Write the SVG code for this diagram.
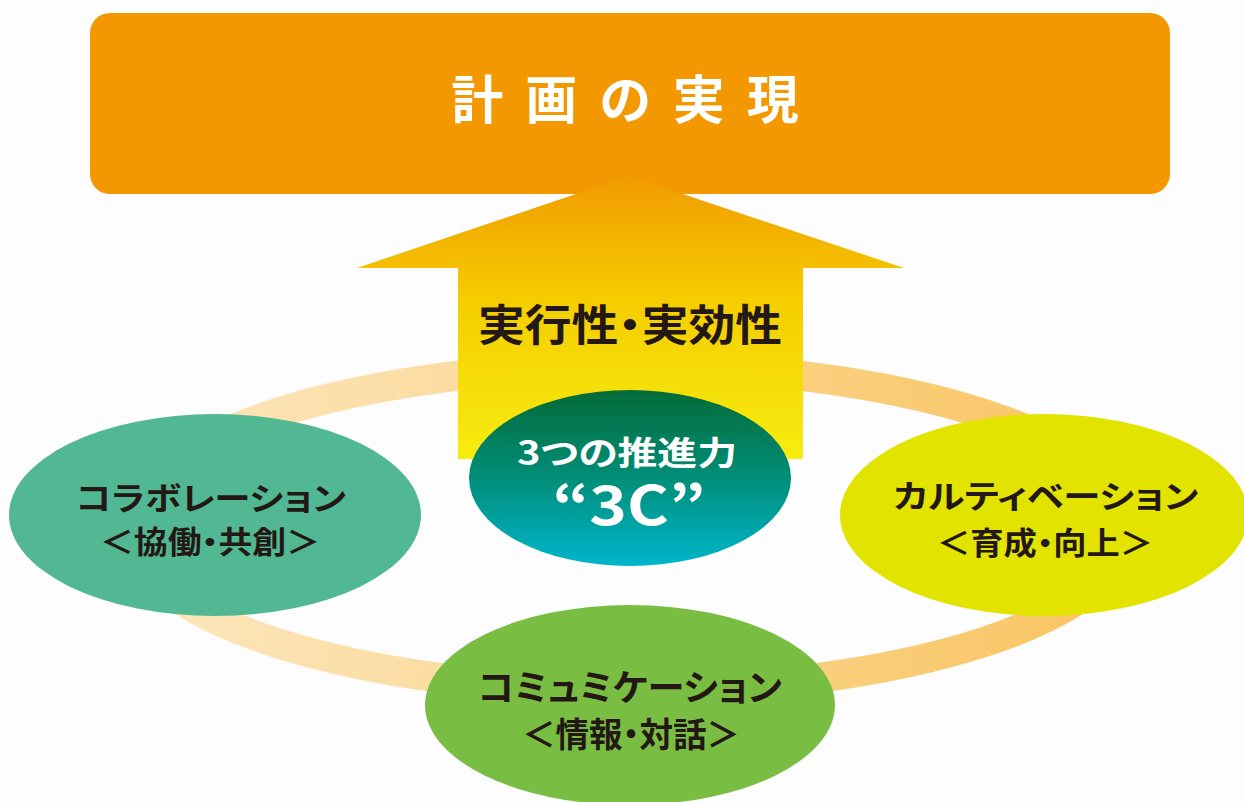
<svg xmlns="http://www.w3.org/2000/svg" width="1244" height="802" viewBox="0 0 1244 802">
<defs>
<linearGradient id="gArrow" x1="0" y1="0" x2="0" y2="1">
<stop offset="0" stop-color="#F19B00"/>
<stop offset="0.45" stop-color="#F5CE00"/>
<stop offset="1" stop-color="#F7EC10"/>
</linearGradient>
<linearGradient id="gRing" gradientUnits="userSpaceOnUse" x1="130" y1="0" x2="1130" y2="0">
<stop offset="0" stop-color="#FDE7BF"/>
<stop offset="1" stop-color="#F8C460"/>
</linearGradient>
<linearGradient id="gCenter" x1="0" y1="0" x2="0" y2="1">
<stop offset="0" stop-color="#046B38"/>
<stop offset="0.5" stop-color="#008E78"/>
<stop offset="1" stop-color="#00B6CC"/>
</linearGradient>
<style>
text{font-family:"Noto Sans CJK JP","Noto Sans",sans-serif;font-weight:bold;text-anchor:middle;font-feature-settings:"palt"}
.dark{fill:#231815}
.white{fill:#FFFFFF}
</style>
</defs>
<rect width="1244" height="802" fill="#FDFDFD"/>
<g id="goal">
<rect x="90" y="13" width="1080" height="181" rx="20" fill="#F39800"/>
<text class="white" x="636" y="119" font-size="52" letter-spacing="22">計画の実現</text>
</g>
<g id="connectors">
<ellipse cx="629" cy="528" rx="500" ry="162" fill="none" stroke="url(#gRing)" stroke-width="30"/>
</g>
<g id="arrow">
<polygon points="629,176 904,268 803,268 803,459 458,459 458,268 357,268" fill="url(#gArrow)"/>
<text class="dark" x="630" y="341" font-size="43" textLength="304" lengthAdjust="spacingAndGlyphs">実行性・実効性</text>
</g>
<g id="collaboration">
<ellipse cx="215" cy="515" rx="206" ry="101" fill="#52B893"/>
<text class="dark" x="211" y="510" font-size="32" textLength="270" lengthAdjust="spacingAndGlyphs">コラボレーション</text>
<text class="dark" x="210" y="553" font-size="31" textLength="220" lengthAdjust="spacingAndGlyphs">＜協働・共創＞</text>
</g>
<g id="cultivation">
<ellipse cx="1044" cy="515" rx="204" ry="101" fill="#E2E400"/>
<text class="dark" x="1046" y="508" font-size="32" textLength="305" lengthAdjust="spacingAndGlyphs">カルティベーション</text>
<text class="dark" x="1045" y="554" font-size="31" textLength="216" lengthAdjust="spacingAndGlyphs">＜育成・向上＞</text>
</g>
<g id="communication">
<ellipse cx="630" cy="705" rx="205" ry="100" fill="#7ABD43"/>
<text class="dark" x="630" y="701" font-size="36" textLength="304" lengthAdjust="spacingAndGlyphs">コミュミケーション</text>
<text class="dark" x="631" y="747" font-size="34" textLength="218" lengthAdjust="spacingAndGlyphs">＜情報・対話＞</text>
</g>
<g id="center">
<ellipse cx="630" cy="478" rx="161" ry="88" fill="url(#gCenter)"/>
<text class="white" x="627" y="465" font-size="33" textLength="220" lengthAdjust="spacingAndGlyphs">3つの推進力</text>
<text class="white" x="629" y="525" font-size="54" textLength="153" lengthAdjust="spacingAndGlyphs">“3C”</text>
</g>
</svg>
